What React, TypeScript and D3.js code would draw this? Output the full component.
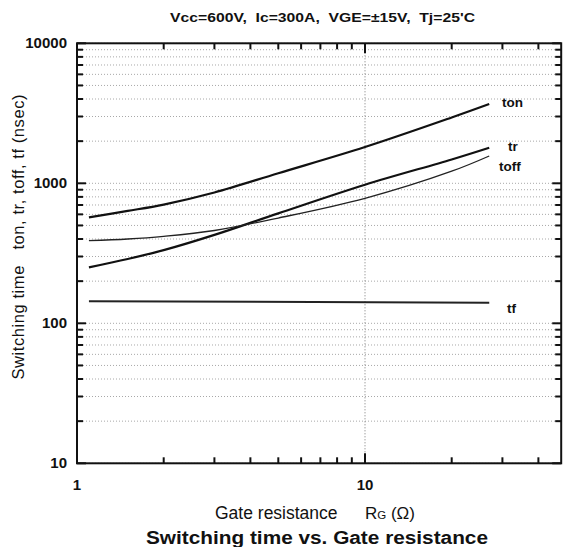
import React from "react";
import * as d3 from "d3";

const rg = [1.1, 1.5, 2, 3, 5, 10, 20, 27];
const tonVals = [571, 635, 705, 860, 1180, 1815, 2950, 3680];
const trRg = [1.1, 1.5, 2, 3, 5, 10, 20, 27];
const trVals = [251, 288, 333, 428, 610, 977, 1480, 1795];
const toffRg = [1.1, 1.5, 2, 3, 5, 10, 20, 27];
const toffVals = [389, 400, 418, 460, 565, 781, 1220, 1567];
const tfRg = [1.1, 27];
const tfVals = [144, 140];

const yDecades = [10, 100, 1000, 10000];
const yTickLabels = ["10", "100", "1000", "10000"];
const xTickLabels = ["1", "10"];
const xMinor = [2, 3, 4, 5, 6, 7, 8, 9, 20, 30, 40];

const W = 564, H = 547;
const x0 = 77, xDec = 288;
const xMax = 48;
const x = d3.scaleLog().domain([1, xMax]).range([x0, x0 + xDec * Math.log10(xMax)]);
const y = d3.scaleLog().domain([10, 10000]).range([463.3, 43.3]);

export default function App() {
  const xr = x.range();
  const yr = y.range();
  const L = xr[0], R = xr[1], T = yr[1], B = yr[0];
  const yAll: number[] = [];
  [10, 100, 1000].forEach((d) => {
    for (let k = 1; k <= 9; k++) yAll.push(d * k);
  });
  yAll.push(10000);
  const line = d3
    .line<[number, number]>()
    .x((d) => x(d[0]))
    .y((d) => y(d[1]))
    .curve(d3.curveCatmullRom.alpha(0.5));
  const mk = (xs: number[], vs: number[]) => xs.map((v, i) => [v, vs[i]] as [number, number]);
  const font = "'Liberation Sans', Arial, sans-serif";
  return (
    <svg width={W} height={H} style={{ position: "absolute", left: 0, top: 0, background: "#fff" }}>
      <rect width={W} height={H} fill="#fff" />
      {/* grid */}
      {yAll.map((v, i) => (
        <line key={"g" + i} x1={L} x2={R} y1={y(v)} y2={y(v)} stroke="#a8a8a8" strokeWidth={1} strokeDasharray="1,2" />
      ))}
      <line x1={x(10)} x2={x(10)} y1={T} y2={B} stroke="#777" strokeWidth={1} strokeDasharray="1,2" />
      {/* curves */}
      <path d={line(mk(rg, tonVals)) || ""} fill="none" stroke="#111" strokeWidth={2.2} />
      <path d={line(mk(trRg, trVals)) || ""} fill="none" stroke="#111" strokeWidth={2.2} />
      <path d={line(mk(toffRg, toffVals)) || ""} fill="none" stroke="#222" strokeWidth={1.3} />
      <path d={line(mk(tfRg, tfVals)) || ""} fill="none" stroke="#222" strokeWidth={2} />
      {/* frame */}
      <rect x={L} y={T} width={R - L} height={B - T} fill="none" stroke="#111" strokeWidth={2} />
      {/* y ticks */}
      {yAll.map((v, i) => {
        const major = yDecades.includes(v);
        const len = major ? 9 : 6;
        return (
          <g key={"yt" + i}>
            <line x1={L} x2={L + len} y1={y(v)} y2={y(v)} stroke="#111" strokeWidth={2} />
            <line x1={R} x2={R - len} y1={y(v)} y2={y(v)} stroke="#111" strokeWidth={2} />
          </g>
        );
      })}
      {/* x ticks */}
      {[...xMinor, 10].map((v, i) => {
        const len = v === 10 ? 10 : 6;
        return (
          <g key={"xt" + i}>
            <line x1={x(v)} x2={x(v)} y1={B} y2={B - len} stroke="#111" strokeWidth={2} />
            <line x1={x(v)} x2={x(v)} y1={T} y2={T + len} stroke="#111" strokeWidth={2} />
          </g>
        );
      })}
      {/* y tick labels */}
      {yDecades.map((v, i) => (
        <text key={"yl" + i} x={67} y={y(v) + 5} textAnchor="end" fontFamily={font} fontSize={15} fontWeight="bold" fill="#111">
          {yTickLabels[i]}
        </text>
      ))}
      {/* x tick labels */}
      {[1, 10].map((v, i) => (
        <text key={"xl" + i} x={x(v)} y={490} textAnchor="middle" fontFamily={font} fontSize={15} fontWeight="bold" fill="#111">
          {xTickLabels[i]}
        </text>
      ))}
      {/* series labels */}
      <g fontFamily={font} fontSize={13.5} fontWeight="bold" fill="#111">
        <text x={502} y={107}>ton</text>
        <text x={508} y={151}>tr</text>
        <text x={499} y={171}>toff</text>
        <text x={507} y={313}>tf</text>
      </g>
      {/* header */}
      <text x={170} y={22} fontFamily={font} fontSize={12.5} fontWeight="bold" fill="#111" textLength={305} lengthAdjust="spacingAndGlyphs" style={{ whiteSpace: "pre" }}>
        {"Vcc=600V,  Ic=300A,  VGE=±15V,  Tj=25'C"}
      </text>
      {/* axis titles */}
      <text x={215} y={519} fontFamily={font} fontSize={17.5} fill="#111">
        Gate resistance
      </text>
      <text x={365} y={519} fontFamily={font} fontSize={17} fill="#111">
        R<tspan fontSize={11.5}>G</tspan> (Ω)
      </text>
      <text
        transform={`translate(24, 237) rotate(-90)`}
        textAnchor="middle"
        fontFamily={font}
        fontSize={16.5}
        fill="#111"
        textLength={285}
        lengthAdjust="spacing"
        style={{ whiteSpace: "pre" }}
      >
        {"Switching time   ton, tr, toff, tf (nsec)"}
      </text>
      <text x={317} y={544} textAnchor="middle" fontFamily={font} fontSize={18} fontWeight="bold" fill="#111" textLength={342} lengthAdjust="spacingAndGlyphs">
        Switching time vs. Gate resistance
      </text>
    </svg>
  );
}
